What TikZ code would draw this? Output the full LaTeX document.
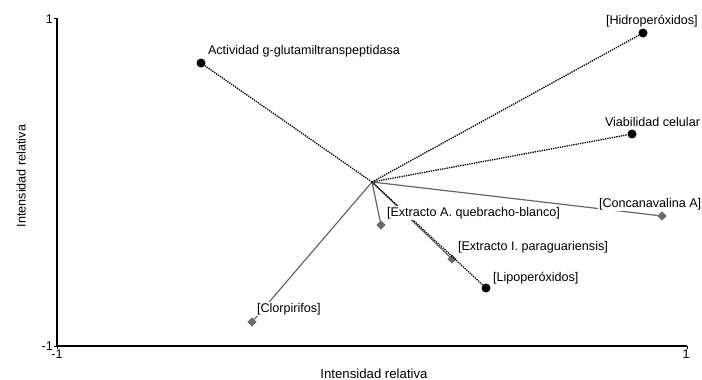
\documentclass[tikz,border=0pt]{standalone}
\usepackage{fontspec}
\setmainfont{Liberation Sans}
\usetikzlibrary{shapes.geometric}
\begin{document}
\begin{tikzpicture}[x=1pt,y=-1pt,
  lbl/.style={font=\fontsize{12.6}{14}\selectfont, inner sep=0.8pt, fill=white, anchor=west},
  dotpt/.style={circle, fill=black, inner sep=0pt, minimum size=9pt},
  diapt/.style={diamond, fill=gray!85!black, inner sep=0pt, minimum size=9.5pt},
  dotln/.style={densely dotted, line width=1.3pt, black},
  solln/.style={line width=1.2pt, gray!80!black},
  axis/.style={line width=1.7pt, black},
  tick/.style={font=\fontsize{12.6}{14}\selectfont, inner sep=1pt}]
\useasboundingbox (0,0) rectangle (702,380);
% axes
\coordinate (o) at (57,346);
\coordinate (ytop) at (57,18);
\coordinate (xend) at (687,346);
\draw[axis] (ytop) -- (o) -- (xend);
\draw[line width=0.8pt] (ytop) -- ++(-3,0);
\draw[line width=0.8pt] (o) -- ++(-3,0);
\draw[line width=0.8pt] (o) -- ++(0,3);
\draw[line width=0.8pt] (xend) -- ++(0,3);
\node[tick, anchor=east] (t1) at (54,19) {1};
\node[tick, anchor=east] (t2) at (54,346) {-1};
\node[tick, anchor=north] (t3) at (57,349) {-1};
\node[tick, anchor=north] (t4) at (686,349) {1};
\node[tick, anchor=base, font=\fontsize{13.2}{15}\selectfont] (xl) at (374,378.5) {Intensidad relativa};
\node[tick, rotate=90] (yl) at (21,176) {Intensidad relativa};
% center
\coordinate (c) at (372,182);
% points
\node[dotpt] (act) at (201,63) {};
\node[dotpt] (hid) at (643,33) {};
\node[dotpt] (via) at (632,134) {};
\node[dotpt] (lip) at (486,288) {};
\node[diapt] (con) at (662,216) {};
\node[diapt] (que) at (381,225) {};
\node[diapt] (par) at (452,259) {};
\node[diapt] (clo) at (252,322) {};
% connectors
\draw[solln] (c) -- (con);
\draw[solln] (c) -- (que);
\draw[solln] (c) -- (par);
\draw[solln] (c) -- (clo);
\draw[dotln] (c) -- (act);
\draw[dotln] (c) -- (hid);
\draw[dotln] (c) -- (via);
\draw[dotln] (c) -- (lip);
% labels
\node[lbl] (lact) at (207,51) {Actividad g-glutamiltranspeptidasa};
\node[lbl] (lhid) at (605,21) {[Hidroperóxidos]};
\node[lbl] (lvia) at (604,122) {Viabilidad celular};
\node[lbl] (lcon) at (598,204) {[Concanavalina A]};
\node[lbl] (lque) at (386,213) {[Extracto A. quebracho-blanco]};
\node[lbl] (lpar) at (457,247) {[Extracto I. paraguariensis]};
\node[lbl] (llip) at (492,278) {[Lipoperóxidos]};
\node[lbl] (lclo) at (256,309) {[Clorpirifos]};
\end{tikzpicture}
\end{document}
